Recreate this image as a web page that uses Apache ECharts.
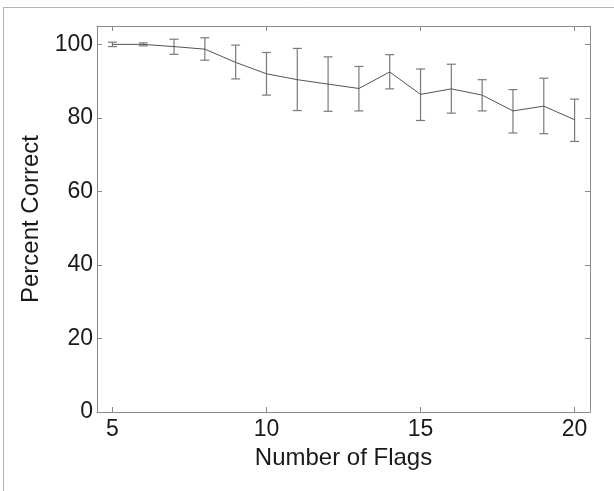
<!DOCTYPE html>
<html>
<head>
<meta charset="utf-8">
<script src="https://cdn.jsdelivr.net/npm/echarts@6/dist/echarts.min.js"></script>
<style>
html,body{margin:0;padding:0;background:#fff;}
#chart{width:614px;height:491px;}
</style>
</head>
<body>
<div id="chart"></div>
<script>
// Data
const flags = [5, 6, 7, 8, 9, 10, 11, 12, 13, 14, 15, 16, 17, 18, 19, 20];
const percentCorrect = [100, 100, 99.4, 98.7, 95.1, 92.0, 90.4, 89.2, 88.0, 92.5, 86.4, 87.9, 86.2, 81.9, 83.2, 79.5];
const errLow = [99.4, 99.6, 97.3, 95.7, 90.6, 86.2, 82.0, 81.8, 81.9, 87.9, 79.3, 81.3, 81.9, 75.9, 75.7, 73.6];
const errHigh = [100.6, 100.4, 101.4, 101.8, 99.8, 97.8, 98.9, 96.6, 94.0, 97.2, 93.3, 94.6, 90.4, 87.7, 90.8, 85.1];
const xTicks = [5, 10, 15, 20];
const yTicks = [0, 20, 40, 60, 80, 100];

const FONT = 'Liberation Sans';
const chart = echarts.init(document.getElementById('chart'), null, {renderer: 'canvas'});

const lineData = flags.map((f, i) => [f, percentCorrect[i]]);
const errData = flags.map((f, i) => [f, errLow[i], errHigh[i]]);

const axisLineStyle = {color: '#8a8a8a', width: 1};
const baseX = {
  type: 'value', min: 4.5, max: 20.5,
  axisLine: {show: true, onZero: false, lineStyle: axisLineStyle},
  axisTick: {show: true, inside: true, length: 5, customValues: xTicks, lineStyle: axisLineStyle},
  splitLine: {show: false}
};
const baseY = {
  type: 'value', min: 0, max: 105,
  axisLine: {show: true, onZero: false, lineStyle: axisLineStyle},
  axisTick: {show: true, inside: true, length: 5, customValues: yTicks, lineStyle: axisLineStyle},
  splitLine: {show: false}
};

chart.setOption({
  animation: false,
  backgroundColor: '#ffffff',
  graphic: [
    {type: 'line', shape: {x1: 3, y1: 7.5, x2: 614, y2: 7.5}, style: {stroke: '#b5b5b5', lineWidth: 1}},
    {type: 'line', shape: {x1: 3.5, y1: 7, x2: 3.5, y2: 491}, style: {stroke: '#b5b5b5', lineWidth: 1}}
  ],
  grid: {left: 97, right: 24, top: 26, bottom: 79, containLabel: false},
  xAxis: [
    Object.assign({}, baseX, {
      position: 'bottom',
      name: 'Number of Flags', nameLocation: 'middle', nameGap: 30,
      nameTextStyle: {fontFamily: FONT, fontSize: 24, color: '#1a1a1a'},
      axisLabel: {show: true, customValues: xTicks, margin: 6, fontFamily: FONT, fontSize: 23, color: '#1a1a1a'}
    }),
    Object.assign({}, baseX, {position: 'top', axisLabel: {show: false}})
  ],
  yAxis: [
    Object.assign({}, baseY, {
      position: 'left',
      name: 'Percent Correct', nameLocation: 'middle', nameGap: 52,
      nameTextStyle: {fontFamily: FONT, fontSize: 24, color: '#1a1a1a'},
      axisLabel: {show: true, customValues: yTicks, margin: 4, fontFamily: FONT, fontSize: 23, color: '#1a1a1a'}
    }),
    Object.assign({}, baseY, {position: 'right', axisLabel: {show: false}})
  ],
  series: [
    {
      type: 'custom',
      name: 'error',
      xAxisIndex: 0, yAxisIndex: 0,
      data: errData,
      encode: {x: 0, y: [1, 2]},
      renderItem: function (params, api) {
        const x = api.value(0);
        const lo = api.coord([x, api.value(1)]);
        const hi = api.coord([x, api.value(2)]);
        const hw = 4.5;
        const st = {stroke: '#7a7a7a', lineWidth: 1.2, fill: null};
        return {
          type: 'group',
          children: [
            {type: 'line', shape: {x1: lo[0], y1: lo[1], x2: hi[0], y2: hi[1]}, style: st},
            {type: 'line', shape: {x1: lo[0] - hw, y1: lo[1], x2: lo[0] + hw, y2: lo[1]}, style: st},
            {type: 'line', shape: {x1: hi[0] - hw, y1: hi[1], x2: hi[0] + hw, y2: hi[1]}, style: st}
          ]
        };
      },
      z: 2
    },
    {
      type: 'line',
      name: 'Percent Correct',
      xAxisIndex: 0, yAxisIndex: 0,
      data: lineData,
      showSymbol: false,
      symbol: 'none',
      lineStyle: {color: '#555555', width: 1},
      z: 3
    }
  ]
});
</script>
</body>
</html>
